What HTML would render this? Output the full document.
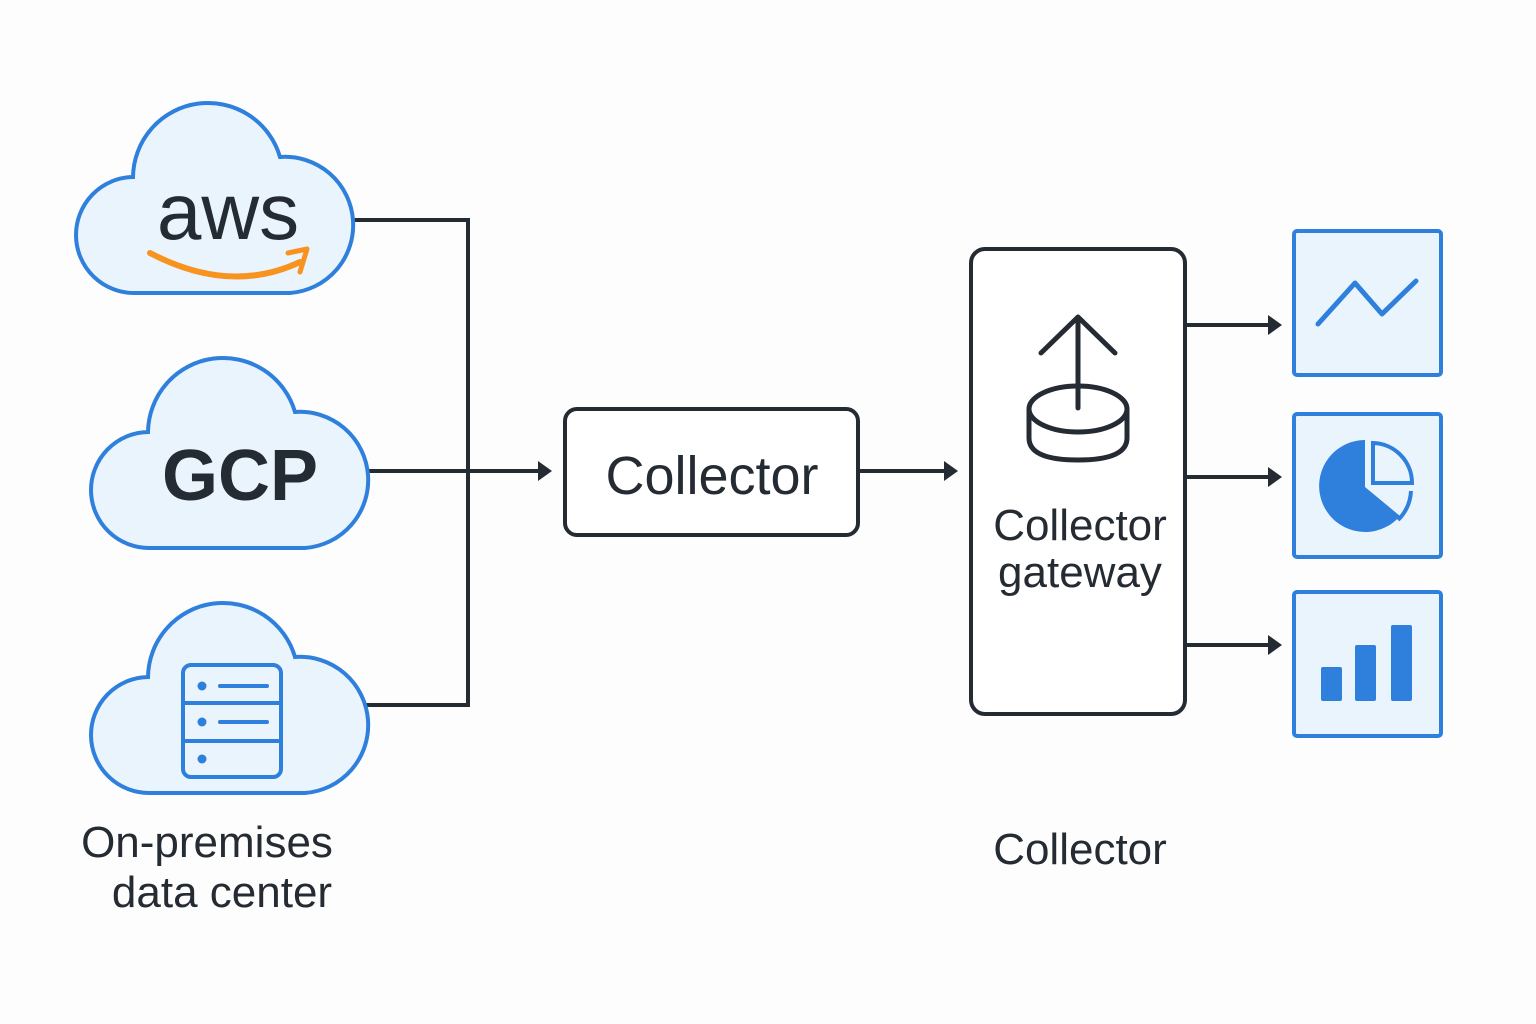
<!DOCTYPE html>
<html><head><meta charset="utf-8"><style>
html,body{margin:0;padding:0;background:#fdfdfd}
svg{display:block}
text{font-family:"Liberation Sans","DejaVu Sans",sans-serif;fill:#252b33}
</style></head><body>
<svg width="1536" height="1024" viewBox="0 0 1536 1024" xmlns="http://www.w3.org/2000/svg">
<defs>
<path id="cloud" d="M65,188 H220 A68 68 0 0 0 210,52 A75 75 0 0 0 63,72 A58 58 0 0 0 65,188 Z"/>
</defs>
<rect width="1536" height="1024" fill="#fdfdfd"/>
<g stroke="#252b33" stroke-width="4" fill="none">
<path d="M354,220 H468 V705 H366"/>
<path d="M368,471 H542"/>
<path d="M860,471 H948"/>
<path d="M1185,325 H1272"/>
<path d="M1185,477 H1272"/>
<path d="M1185,645 H1272"/>
</g>
<path d="M538,461 L552,471 L538,481Z M944,461 L958,471 L944,481Z M1268,315 L1282,325 L1268,335Z M1268,467 L1282,477 L1268,487Z M1268,635 L1282,645 L1268,655Z" fill="#252b33"/>
<g fill="#eaf4fd" stroke="#2f80dc" stroke-width="4">
<use href="#cloud" transform="translate(70,105)"/>
<use href="#cloud" transform="translate(85,360)"/>
<use href="#cloud" transform="translate(85,605)"/>
</g>
<text x="228" y="239" font-size="80" text-anchor="middle">aws</text>
<path d="M150,253 Q230,295 300,262" stroke="#f7931e" stroke-width="6" fill="none" stroke-linecap="round"/>
<path d="M288,253 L307,249 L300,272" stroke="#f7931e" stroke-width="5" fill="none" stroke-linecap="round" stroke-linejoin="round"/>
<text x="240" y="500" font-size="72" font-weight="bold" text-anchor="middle">GCP</text>
<g stroke="#2f80dc" stroke-width="4" fill="none">
<rect x="183" y="665" width="98" height="112" rx="8"/>
<path d="M183,703 H281 M183,741 H281 M220,686 H267 M220,722 H267" stroke-linecap="round"/>
</g>
<g fill="#2f80dc"><circle cx="202" cy="686" r="4.5"/><circle cx="202" cy="722" r="4.5"/><circle cx="202" cy="759" r="4.5"/></g>
<text x="207" y="857" font-size="44" text-anchor="middle">On-premises</text>
<text x="222" y="907" font-size="44" text-anchor="middle">data center</text>
<rect x="565" y="409" width="293" height="126" rx="12" fill="#fff" stroke="#252b33" stroke-width="4"/>
<text x="712" y="494" font-size="54" text-anchor="middle">Collector</text>
<rect x="971" y="249" width="214" height="465" rx="14" fill="#fff" stroke="#252b33" stroke-width="4"/>
<g stroke="#252b33" stroke-width="5" fill="none" stroke-linecap="round" stroke-linejoin="round">
<path d="M1029,409 V438 Q1029,460 1078,460 Q1127,460 1127,438 V409"/>
<ellipse cx="1078" cy="409" rx="49" ry="23"/>
<path d="M1078,408 V317 M1041,353 L1078,317 L1115,353"/>
</g>
<text x="1080" y="540" font-size="44" text-anchor="middle">Collector</text>
<text x="1080" y="587" font-size="44" text-anchor="middle">gateway</text>
<text x="1080" y="864" font-size="44" text-anchor="middle">Collector</text>
<g fill="#eaf4fd" stroke="#2f80dc" stroke-width="4">
<rect x="1294" y="231" width="147" height="144" rx="3"/>
<rect x="1294" y="414" width="147" height="143" rx="3"/>
<rect x="1294" y="592" width="147" height="144" rx="3"/>
</g>
<path d="M1318,324 L1355,283 L1382,314 L1416,281" stroke="#2f80dc" stroke-width="5" fill="none" stroke-linecap="round" stroke-linejoin="round"/>
<path d="M1365,440 V487 L1400,516 A46 46 0 1 1 1365,440Z" fill="#2f80dc"/>
<path d="M1373,443 V483 H1412 A40 40 0 0 0 1373,443Z M1411,491 A44 44 0 0 1 1398,520" stroke="#2f80dc" stroke-width="4" fill="none"/>
<g fill="#2f80dc">
<rect x="1321" y="667" width="21" height="34" rx="2"/>
<rect x="1355" y="645" width="21" height="56" rx="2"/>
<rect x="1391" y="625" width="21" height="76" rx="2"/>
</g>
</svg>
</body></html>
